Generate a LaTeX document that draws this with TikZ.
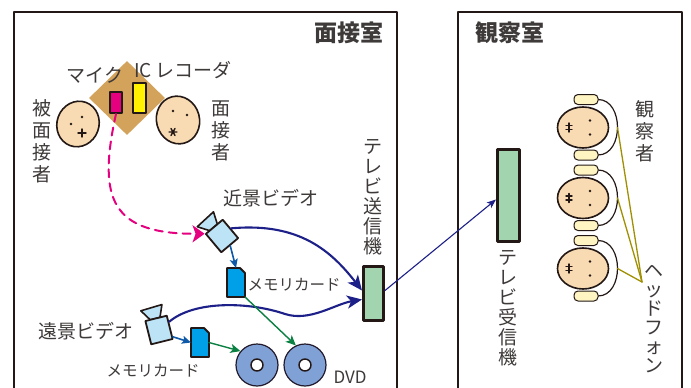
\documentclass[tikz,border=0pt]{standalone}
\usepackage{fontspec}
\setmainfont{Noto Sans CJK JP}
\usepackage{tikz}
\usetikzlibrary{arrows.meta,shapes.geometric}
\definecolor{ink}{HTML}{231815}
\definecolor{labelink}{HTML}{3E3A39}
\definecolor{skin}{HTML}{F8DBB2}
\definecolor{desktan}{HTML}{D4A35B}
\definecolor{micpink}{HTML}{E4007F}
\definecolor{recyellow}{HTML}{FFF100}
\definecolor{camblue}{HTML}{BDE3F6}
\definecolor{cardblue}{HTML}{00A0E9}
\definecolor{discblue}{HTML}{7FA1D6}
\definecolor{tvgreen}{HTML}{A3D4B0}
\definecolor{linknavy}{HTML}{1D2088}
\definecolor{linkblue}{HTML}{0E59A8}
\definecolor{linkgreen}{HTML}{0B8043}
\definecolor{cordolive}{HTML}{A08F00}
\definecolor{cupyellow}{HTML}{FFF5C3}
\tikzset{
    every picture/.style={line cap=round,line join=round},
    room/.style={draw=ink,line width=2.4pt},
    roomtitle/.style={font=\fontsize{23}{24}\selectfont\bfseries,text=labelink,inner sep=0pt},
    hlabel/.style={font=\fontsize{19}{21}\selectfont,text=labelink,inner sep=0pt},
    smalllabel/.style={font=\fontsize{15.5}{17}\selectfont,text=labelink,inner sep=0pt},
    vlabel/.style={font=\fontsize{19}{#1}\selectfont,text=labelink,inner sep=0pt,align=center},
    vlabel/.default=20,
    headnode/.style={ellipse,draw=ink,fill=skin,line width=1.6pt,inner sep=0pt},
    facemark/.style={draw=ink,line width=1.4pt},
    desk/.style={diamond,fill=desktan,inner sep=0pt,minimum width=76,minimum height=74},
    devbox/.style={draw=ink,line width=1.8pt,inner sep=0pt},
    cambody/.style={draw=ink,fill=camblue,line width=1.8pt,inner sep=0pt,
      minimum width=22,minimum height=24},
    camline/.style={draw=ink,fill=camblue,line width=1.6pt},
    camera/.pic={
      \draw[camline] (-6,-12) -- (-13,-23) -- (9,-24) -- (4,-12) -- cycle;
      \node[cambody] (-body) at (0,0) {};
    },
    cardspot/.style={inner sep=0pt,outer sep=0pt,minimum width=18,minimum height=29},
    cardline/.style={draw=ink,fill=cardblue,line width=1.8pt},
    disc/.style={circle,draw=ink!80!linknavy,fill=discblue,line width=1.2pt,
      inner sep=0pt,minimum size=42},
    dischole/.style={circle,draw=ink,fill=white,line width=1.4pt,inner sep=0pt,minimum size=12},
    tvset/.style={draw=ink,fill=tvgreen,line width=3pt,inner sep=0pt},
    cup/.style={draw=ink,fill=cupyellow,line width=1pt,rounded corners=4pt,
      inner sep=0pt,minimum width=24,minimum height=10},
    band/.style={draw=ink,line width=1.2pt},
    cord/.style={draw=cordolive,line width=1.3pt},
    navyarrow/.style={draw=linknavy,line width=2.1pt,
      -{Stealth[length=15pt,width=13pt,inset=4pt]}},
    bluearrow/.style={draw=linkblue,line width=1.6pt,
      -{Stealth[length=9pt,width=8pt,inset=2pt]}},
    greenarrow/.style={draw=linkgreen,line width=1.4pt,
      -{Stealth[length=10pt,width=9pt,inset=2.5pt]}},
    micarrow/.style={draw=micpink,line width=2pt,dash pattern=on 8pt off 6pt,
      -{Stealth[length=12pt,width=17pt,inset=3pt]}},
    sendarrow/.style={draw=linknavy,line width=1.1pt,
      -{Stealth[length=9pt,width=7pt,inset=2pt]}}
}

\begin{document}
\begin{tikzpicture}[x=1pt,y=-1pt]
  \useasboundingbox (0,0) rectangle (691,388);
  \fill[white] (0,0) rectangle (691,388);
  \clip (0,0) rectangle (691,388);

  % the two rooms
  \draw[room] (14,12) rectangle (397,400);
  \draw[room] (458,12) rectangle (682,400);
  \node[roomtitle,anchor=east] (titleint) at (384,33) {面接室};
  \node[roomtitle,anchor=west] (titleobs) at (475,33) {観察室};

  % table with mic and recorder
  \node[desk] (table) at (127,98) {};
  \node[devbox,fill=micpink,minimum width=12,minimum height=21] (mic) at (116,102.5) {};
  \node[devbox,fill=recyellow,minimum width=13,minimum height=30] (rec) at (139.5,98) {};
  \node[hlabel] (lblmic) at (95,75) {マイク};
  \node[hlabel] (lblrec) at (183,70) {IC レコーダ};

  % interviewee and interviewer
  \node[headnode,rotate=-20,minimum width=42,minimum height=46] (guest) at (78,124) {};
  \fill[ink] (82,117) circle (1.4) (71,124) circle (1.4);
  \draw[facemark] (78,133) -- (86,133) (82,129) -- (82,137);
  \node[headnode,rotate=15,minimum width=43,minimum height=48] (host) at (178,120) {};
  \fill[ink] (173,111) circle (1.4) (187,115) circle (1.4);
  \draw[facemark] (169,132) -- (177,132) (171,128.5) -- (175,135.5) (175,128.5) -- (171,135.5);
  \node[vlabel=22] (lblguest) at (42,141) {被\\面\\接\\者};
  \node[vlabel=22] (lblhost) at (221,131) {面\\接\\者};

  % cameras, cards and discs
  \pic[rotate=40,transform shape] (nearcam) at (222,236) {camera};
  \pic[rotate=14,transform shape] (farcam) at (159,330) {camera};
  \node[hlabel] (lblnear) at (271,198) {近景ビデオ};
  \node[hlabel] (lblfar) at (86,331) {遠景ビデオ};

  \node[cardspot] (cardnear) at (236,282.5) {};
  \node[cardspot] (cardfar) at (200,342.5) {};
  \foreach \c in {cardnear,cardfar}
    \draw[cardline] (\c.south west) |- ([xshift=-5pt]\c.north east)
      -- ([yshift=-5pt]\c.north east) -- (\c.south east) -- cycle;
  \node[smalllabel] (lblcardnear) at (294,285) {メモリカード};
  \node[smalllabel] (lblcardfar) at (153,371) {メモリカード};

  \foreach \d/\x in {disc1/257,disc2/305}{
    \node[disc] (\d) at (\x,365) {};
    \node[dischole] (\d-hole) at (\d) {};
  }
  \node[font=\fontsize{17}{18}\selectfont,text=labelink,inner sep=0pt] (lbldvd) at (350,377) {DVD};

  % transmitter and receiver
  \node[tvset,minimum width=20,minimum height=54] (tx) at (373.5,293.5) {};
  \node[vlabel] (lbltx) at (373,197) {テ\\レ\\ビ\\送\\信\\機};
  \node[tvset,minimum width=22,minimum height=92] (rx) at (508.5,195.5) {};
  \node[vlabel] (lblrx) at (508,308) {テ\\レ\\ビ\\受\\信\\機};

  % signal paths
  \draw[micarrow] (mic.south) .. controls (97,200) and (112,234) .. (nearcam-body.north west);
  \draw[navyarrow] (nearcam-body.east) .. controls (300,222) and (332,252) .. ([yshift=3pt]tx.west);
  \draw[navyarrow] (farcam-body.25) .. controls (195,300) and (250,302) .. (285,314)
    .. controls (310,322) and (335,304) .. ([yshift=-6pt]tx.west);
  \draw[bluearrow] (nearcam-body.south) -- (cardnear.north);
  \draw[bluearrow] (farcam-body.-40) -- (cardfar.west);
  \draw[greenarrow] (cardnear.south east) -- (disc2.115);
  \draw[greenarrow] (cardfar.east) -- (disc1.140);
  \draw[sendarrow] ([yshift=3pt]tx.east) -- ([yshift=-4pt]rx.west);

  % observers with headphones
  \coordinate (jack) at (642,282);
  \foreach \i/\y in {1/127.5,2/198,3/268.5}{
    \draw[band] (586,\y-28) ++(12,0) .. controls (624,\y-28) and (624,\y+27.5) .. (598,\y+27.5);
    \node[cup] (cuptop\i) at (586,\y-28) {};
    \node[cup] (cupbot\i) at (586,\y+27.5) {};
    \node[headnode,minimum width=51,minimum height=41] (obs\i) at (583,\y) {};
    \fill[ink] (590,\y-7) circle (1.3) (590,\y+7) circle (1.3);
    \draw[facemark] (566,\y-2) -- (572,\y-2) (566,\y+2) -- (572,\y+2) (569,\y-4.5) -- (569,\y+4.5);
    \coordinate (ear\i) at (617.5,\y);
    \draw[cord] (ear\i) -- (jack);
  }
  \node[vlabel=22] (lblobs) at (645,131) {観\\察\\者};
  \node[vlabel=19] (lblphone) at (654,319) {ヘ\\ッ\\ド\\フ\\ォ\\ン};
\end{tikzpicture}
\end{document}
